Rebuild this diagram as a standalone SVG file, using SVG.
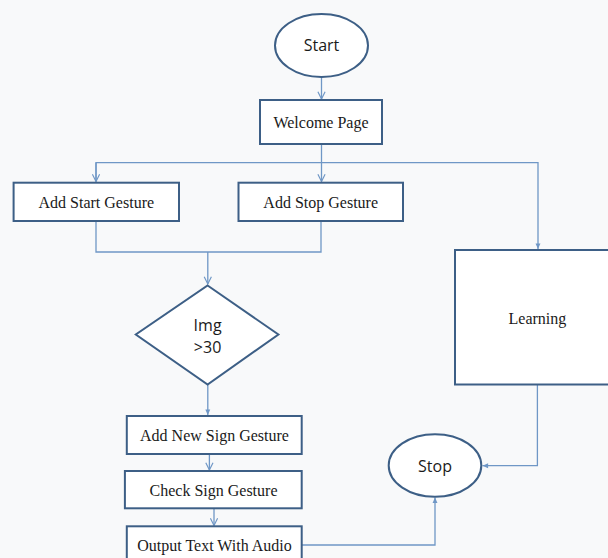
<svg xmlns="http://www.w3.org/2000/svg" width="608" height="558" viewBox="0 0 608 558">
<defs>
<style>
.shape{fill:#ffffff;stroke:#3d5f86;stroke-width:2}
.conn{fill:none;stroke:#6f97c6;stroke-width:1.3}
.serif{font-family:"Liberation Serif","Times New Roman",serif;font-size:16px;fill:#1a1a1a;text-anchor:middle}
.sans{font-family:"Open Sans","Liberation Sans",sans-serif;font-size:16px;fill:#1a1a1a;text-anchor:middle}
</style>
<marker id="open" viewBox="0 0 10 10" refX="9" refY="5" markerWidth="9" markerHeight="9" markerUnits="userSpaceOnUse" orient="auto">
<path d="M1,1 L9,5 L1,9" fill="none" stroke="#6f97c6" stroke-width="1.3"/>
</marker>
<marker id="fill" viewBox="0 0 10 10" refX="9" refY="5" markerWidth="7" markerHeight="7" markerUnits="userSpaceOnUse" orient="auto">
<path d="M1,1.5 L9,5 L1,8.5 Z" fill="#6f97c6"/>
</marker>
</defs>
<rect x="0" y="0" width="608" height="558" fill="#f8f9fa"/>
<g id="connectors">
<path class="conn" d="M321.5,77 L321.5,99" marker-end="url(#open)"/>
<path class="conn" d="M321.5,144 L321.5,181.5" marker-end="url(#open)"/>
<path class="conn" d="M96,181.5 L96,162.7 L538,162.7 L538,249" marker-end="url(#fill)"/>
<path class="conn" d="M96,162.7 L96,181.5" marker-end="url(#open)"/>
<path class="conn" d="M96,221 L96,252 L321,252 L321,221"/>
<path class="conn" d="M207.8,252 L207.8,284" marker-end="url(#open)"/>
<path class="conn" d="M207.8,385 L207.8,415" marker-end="url(#fill)"/>
<path class="conn" d="M209.4,454 L209.4,470" marker-end="url(#open)"/>
<path class="conn" d="M214,508.3 L214,525.5" marker-end="url(#open)"/>
<path class="conn" d="M301.7,545 L435,545 L435,497.5" marker-end="url(#fill)"/>
<path class="conn" d="M537.4,385 L537.4,465.7 L482.5,465.7" marker-end="url(#fill)"/>
</g>
<g id="start">
<ellipse class="shape" cx="321.5" cy="45.5" rx="46.5" ry="31.5"/>
<text class="sans" x="321.5" y="51">Start</text>
</g>
<g id="welcome">
<rect class="shape" x="260" y="100" width="122" height="44"/>
<text class="serif" x="321" y="128">Welcome Page</text>
</g>
<g id="add-start">
<rect class="shape" x="13.6" y="182.7" width="165.4" height="38.3"/>
<text class="serif" x="96.3" y="208">Add Start Gesture</text>
</g>
<g id="add-stop">
<rect class="shape" x="238.5" y="182.7" width="164.5" height="38.3"/>
<text class="serif" x="320.7" y="208">Add Stop Gesture</text>
</g>
<g id="learning">
<rect class="shape" x="455" y="250" width="170" height="134.5"/>
<text class="serif" x="537.4" y="324">Learning</text>
</g>
<g id="decision">
<polygon class="shape" points="207.6,285.5 278.4,334.5 207.6,384.5 135.8,334.5"/>
<text class="sans" x="207.6" y="331">Img</text>
<text class="sans" x="207.6" y="353">&gt;30</text>
</g>
<g id="add-new">
<rect class="shape" x="126.8" y="416" width="174.9" height="38"/>
<text class="serif" x="214.5" y="441">Add New Sign Gesture</text>
</g>
<g id="check">
<rect class="shape" x="124.9" y="471" width="176.8" height="37.3"/>
<text class="serif" x="213.5" y="495.5">Check Sign Gesture</text>
</g>
<g id="output">
<rect class="shape" x="126.8" y="526.3" width="174.9" height="40"/>
<text class="serif" x="214.5" y="551">Output Text With Audio</text>
</g>
<g id="stop">
<ellipse class="shape" cx="435" cy="465.5" rx="46.3" ry="31.3"/>
<text class="sans" x="435" y="471.5">Stop</text>
</g>
</svg>
